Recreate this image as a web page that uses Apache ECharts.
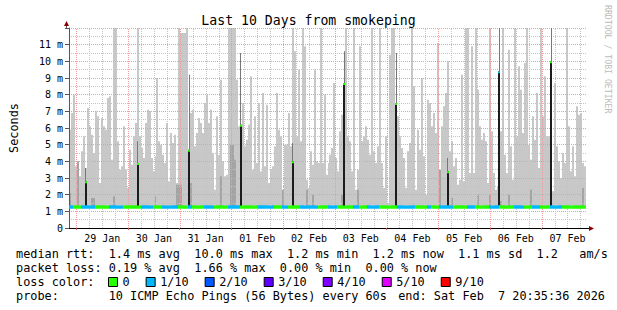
<!DOCTYPE html>
<html><head><meta charset="utf-8">
<script src="https://cdn.jsdelivr.net/npm/echarts@6/dist/echarts.min.js"></script>
<style>html,body{margin:0;padding:0;background:#fff}#c{width:617px;height:310px}</style>
</head><body><div id="c"></div>
<script>
// time axis: hours after 28 Jan 00:00 ; window = 28 Jan 20:35:36 .. 7 Feb 20:35:36
const START = 20.593;
const END = 260.593;
const dayLabels = ['29 Jan','30 Jan','31 Jan','01 Feb','02 Feb','03 Feb','04 Feb','05 Feb','06 Feb','07 Feb'];
const dayLabelHours = [36,60,84,108,132,156,180,204,228,252];
const midnightHours = [24,48,72,96,120,144,168,192,216,240];
const sixHourHours = [30,36,42,54,60,66,78,84,90,102,108,114,126,132,138,150,156,162,174,180,186,198,204,210,222,228,234,246,252,258];

// smoke: max ping (ms) per ~55 min step
const smokeMax = [
5.9,6.9,8.0,3.7,4.0,3.1,4.6,5.5,3.6,7.2,6.1,5.6,4.5,7.0,6.7,2.7,6.6,6.1,5.9,7.8,7.9,4.1,12,12,5.2,3.5,3.7,6.1,3.5,2.4,4.7,3.8,5.5,6.3,12,5.5,4.8,4.2,6.3,7.1,7.0,4.2,3.4,
4.3,9.0,5.2,5.0,4.4,3.9,6.3,2.8,5.7,5.1,5.6,2.7,12,11.7,11.7,11.7,12,2.8,6.9,7.1,4.9,5.7,6.6,6.3,5.7,7.5,8.0,6.3,7.1,4.5,2.3,6.7,4.4,8.9,4.0,3.1,3.2,12,12,12,12,8.9,6.1,3.3,
7.5,4.9,5.3,6.2,9.1,3.5,6.7,3.9,7.5,3.4,8.1,3.7,7.4,2.7,3.5,3.7,4.9,8.1,5.9,5.5,1.9,5.0,5.0,6.9,4.9,12,10.6,5.5,9.5,5.2,12,10.9,2.9,2.4,4.6,3.8,9.5,4.0,3.9,12,3.9,8.0,3.2,
3.9,4.4,4.8,8.7,4.2,3.4,5.8,6.8,6.8,12,5.5,5.2,3.4,12,2.3,3.5,10.9,5.2,5.5,6.1,5.3,4.4,12,4.6,3.9,4.9,12,3.9,2.4,5.5,1.5,10.4,12,12,6.5,6.7,5.5,4.8,4.2,2.4,4.6,5.1,12,8.5,
2.3,5.9,4.7,9.0,4.3,2.0,7.7,7.5,6.1,6.9,5.7,11.1,3.5,6.1,7.3,8.1,10.0,4.6,5.2,3.7,4.2,2.6,2.9,9.2,2.8,12,12,3.3,10.9,3.3,12,8.3,6.1,5.3,5.7,5.2,2.7,12,5.8,3.3,2.3,2.5,5.8,
5.8,12,4.4,3.3,10.7,4.9,2.9,12,5.5,9.7,8.3,5.7,9.9,12,5.0,4.1,6.7,5.3,8.1,3.6,12,6.7,9.1,5.5,5.5,3.5,2.2,8.7,4.9,4.0,3.0,4.5,3.9,12,6.1,3.4,4.9,3.1,7.3,6.8,6.9,3.9,3.7
];
const smokeMin = 1.2;
// darker smoke (step index, upper value ms)
const smokeDark = [[0,2.1],[4,4.0],[11,1.8],[12,1.8],[22,1.9],[34,1.7],[43,1.9],[54,2.6],[55,2.6],[56,2.6],[61,2.7],[76,3.1],[81,5.0],[82,5.0],[83,4.1],[107,2.3],[119,2.3],[122,2.0],[137,2.0],[145,2.3],[186,3.5],[192,1.8],[205,2.0],[211,2.0],[217,1.6],[221,2.0],[232,2.3],[258,2.4]];

// median rtt (ms), one value per two steps
const medianRtt = [
1.26,1.26,1.25,1.26,1.26,1.25,1.26,1.26,1.26,1.25,1.26,1.26,1.25,1.25,1.26,1.26,1.26,1.25,1.26,1.26,
1.25,1.26,1.26,1.26,1.25,1.25,1.26,1.26,1.26,1.25,1.26,1.26,1.25,1.26,1.26,1.26,1.25,1.26,1.26,1.25,
1.26,1.26,1.26,1.25,1.26,1.26,1.25,1.26,1.26,1.26,1.25,1.26,1.26,1.26,1.25,1.25,1.26,1.26,1.26,1.25,
1.26,1.26,1.25,1.26,1.26,1.26,1.25,1.26,1.26,1.25,1.26,1.26,1.26,1.25,1.26,1.26,1.25,1.26,1.26,1.26,
1.25,1.26,1.26,1.26,1.25,1.25,1.26,1.26,1.26,1.25,1.26,1.26,1.25,1.26,1.26,1.26,1.25,1.26,1.26,1.25,
1.26,1.26,1.26,1.25,1.26,1.26,1.25,1.26,1.26,1.26,1.25,1.26,1.26,1.26,1.25,1.25,1.26,1.26,1.26,1.25,
1.26,1.26,1.25,1.26,1.26,1.26,1.25,1.26,1.26,1.25
];
// packet loss per step (tenths lost)
const medianLoss = (
"1100001111111000000011111110000000001111110000011111111000001100000011111000000011111100000"+
"0000111111110000111000000111111111000001111100000000111000011111100000000011111111100000011"+
"0000111111100000001111000000011111000000001111100001111000001111110000"
).split('').map(Number);

// daily jumps
const spikeHours = [28.4,52.4,76.4,100.4,124.4,148.4,172.4,196.4,220.4,244.4];
const spikeTop   = [2.8,3.9,4.7,6.2,4.0,8.7,7.5,3.4,9.4,10.0];
const spikeHigh  = [3.6,5.2,9.2,10.5,5.1,10.6,10.5,4.2,12,12];
const spikeLoss  = [0,0,0,0,0,0,0,0,1,0];

const lossNames  = ['0','1/10','2/10','3/10','4/10','5/10','9/10'];
const lossColors = ['#26ff00','#00b8ff','#0059ff','#5e00ff','#7e00ff','#dd00ff','#ff0000'];

const MONO = '"DejaVu Sans Mono", monospace';
const N = smokeMax.length;
const BIN = (END - START) / N;

function rectRender(color) {
  return function (params, api) {
    const a = api.coord([api.value(0), api.value(2)]);
    const b = api.coord([api.value(1), api.value(3)]);
    const l = Math.round(a[0]), r = Math.round(b[0]);
    return {type:'rect', shape:{x:l, y:b[1], width:Math.max(1, r - l), height:a[1] - b[1]},
            style:{fill: color}};
  };
}
function lineRender(color) {
  return function (params, api) {
    const a = api.coord([api.value(0), 0]);
    const b = api.coord([api.value(0), 12]);
    const x = Math.round(a[0]) + 0.5;
    return {type:'line', shape:{x1:x, y1:a[1], x2:x, y2:b[1]},
            style:{stroke: color, lineWidth:1, lineDash:[1,1]}};
  };
}

const smokeData = smokeMax.map((v, i) => [START + i*BIN, START + (i+1)*BIN, smokeMin, v]);
const darkData = smokeDark.map(d => [START + d[0]*BIN, START + (d[0]+1)*BIN, smokeMin, d[1]]);
const medData = lossNames.map(() => []);
for (let i = 0; i < N; i++) {
  const m = medianRtt[Math.min(medianRtt.length - 1, Math.floor(i/2))];
  const k = medianLoss[i] || 0;
  medData[k].push([START + i*BIN, START + (i+1)*BIN, m - 0.1, m + 0.1]);
}
const spikeBlack = spikeHours.map((h, i) => [h - BIN/2, h + BIN/2, 1.25, spikeTop[i]]);
const spikeGrey = spikeHours.map((h, i) => [h - BIN/4, h + BIN/4, spikeTop[i], spikeHigh[i]]);
const spikeCap = lossNames.map(() => []);
spikeHours.forEach((h, i) => spikeCap[spikeLoss[i]].push([h - BIN/2, h + BIN/2, spikeTop[i] - 0.12, spikeTop[i]]));

const series = [
  {type:'custom', name:'smoke', z:1, silent:true, clip:true, data:smokeData, renderItem:rectRender('#c8c8c8'), encode:{x:[0,1], y:[2,3]}},
  {type:'custom', name:'smoke2', z:1.1, silent:true, clip:true, data:darkData, renderItem:rectRender('#a4a4a4'), encode:{x:[0,1], y:[2,3]}},
  {type:'custom', name:'grid6h', z:3, silent:true, data:sixHourHours.map(h => [h]), renderItem:lineRender('#c4c4c4'), encode:{x:0}},
  {type:'custom', name:'grid24h', z:3, silent:true, data:midnightHours.map(h => [h]), renderItem:lineRender('#f09a9a'), encode:{x:0}},
  {type:'custom', name:'jumpHigh', z:4, silent:true, clip:true, data:spikeGrey, renderItem:rectRender('#777777'), encode:{x:[0,1], y:[2,3]}},
  {type:'custom', name:'jump', z:4, silent:true, clip:true, data:spikeBlack, renderItem:rectRender('#1c1c1c'), encode:{x:[0,1], y:[2,3]}}
];
lossNames.forEach((n, k) => {
  series.push({type:'custom', name:n, z:5, silent:true, clip:true, itemStyle:{color:lossColors[k]},
    data: medData[k].concat(spikeCap[k]), renderItem:rectRender(lossColors[k]), encode:{x:[0,1], y:[2,3]}});
});

const chart = echarts.init(document.getElementById('c'), null, {renderer:'svg', width:617, height:310});
chart.setOption({
  animation:false,
  backgroundColor:'#ffffff',
  title:{text:'Last 10 Days from smokeping', left:'center', top:14, padding:0,
         textStyle:{fontFamily:MONO, fontSize:13.2, fontWeight:'normal', color:'#000'}},
  grid:{left:66, right:31, top:28, bottom:82},
  xAxis:{type:'value', min:START, max:END, z:3,
    axisLine:{show:true, lineStyle:{color:'#000', width:1}},
    axisTick:{show:true, customValues:midnightHours, length:2, lineStyle:{color:'#d06060'}},
    axisLabel:{customValues:dayLabelHours, formatter:v => dayLabels[dayLabelHours.indexOf(v)] || '',
      fontFamily:MONO, fontSize:10, color:'#000', margin:5},
    splitLine:{show:false}},
  yAxis:{type:'value', min:0, max:12, interval:1, z:3,
    name:'Seconds', nameLocation:'middle', nameGap:49, nameRotate:90,
    nameTextStyle:{fontFamily:MONO, fontSize:11.85, color:'#000'},
    axisLine:{show:true, lineStyle:{color:'#555', width:1}},
    axisTick:{show:true, length:4, lineStyle:{color:'#555'}},
    axisLabel:{formatter:v => v === 0 ? '0' : (v >= 12 ? '' : v + ' m'), fontFamily:MONO, fontSize:10, color:'#000', margin:6},
    splitLine:{show:true, lineStyle:{color:'#f09a9a', type:[1,1]}},
    minorTick:{show:false, splitNumber:2},
    minorSplitLine:{show:true, lineStyle:{color:'#c4c4c4', type:[1,1]}}},
  legend:{left:108, top:275, padding:0, itemGap:16, itemWidth:9, itemHeight:9, icon:'rect', selectedMode:false,
    textStyle:{fontFamily:MONO, fontSize:11.85, color:'#000', lineHeight:14},
    data:lossNames.map((n, k) => ({name:n, itemStyle:{color:lossColors[k], borderColor:'#000', borderWidth:1}}))},
  graphic:[
    {type:'text', x:16, y:254, style:{text:'median rtt:  1.4 ms avg  10.0 ms max  1.2 ms min  1.2 ms now  1.1 ms sd  1.2   am/s', font:'11.85px ' + MONO, fill:'#000', verticalAlign:'middle'}},
    {type:'text', x:16, y:268, style:{text:'packet loss: 0.19 % avg  1.66 % max  0.00 % min  0.00 % now', font:'11.85px ' + MONO, fill:'#000', verticalAlign:'middle'}},
    {type:'text', x:16, y:282, style:{text:'loss color:', font:'11.85px ' + MONO, fill:'#000', verticalAlign:'middle'}},
    {type:'text', x:16, y:296, style:{text:'probe:       10 ICMP Echo Pings (56 Bytes) every 60s', font:'11.85px ' + MONO, fill:'#000', verticalAlign:'middle'}},
    {type:'text', x:605, y:296, style:{text:'end: Sat Feb  7 20:35:36 2026', font:'11.85px ' + MONO, fill:'#000', align:'right', verticalAlign:'middle'}},
    {type:'text', x:608, y:5, rotation:-Math.PI/2, style:{text:'RRDTOOL / TOBI OETIKER', font:'8.2px ' + MONO, fill:'#bcbcbc', align:'left', verticalAlign:'middle'}},
    {type:'line', shape:{x1:66.5, y1:28, x2:66.5, y2:24}, style:{stroke:'#555', lineWidth:1}},
    {type:'polygon', shape:{points:[[64,26],[69,26],[66.5,21]]}, style:{fill:'#8b0000'}},
    {type:'line', shape:{x1:586, y1:228.5, x2:590, y2:228.5}, style:{stroke:'#000', lineWidth:1}},
    {type:'polygon', shape:{points:[[589,226],[589,231],[594,228.5]]}, style:{fill:'#8b0000'}}
  ],
  series: series
});
</script></body></html>
